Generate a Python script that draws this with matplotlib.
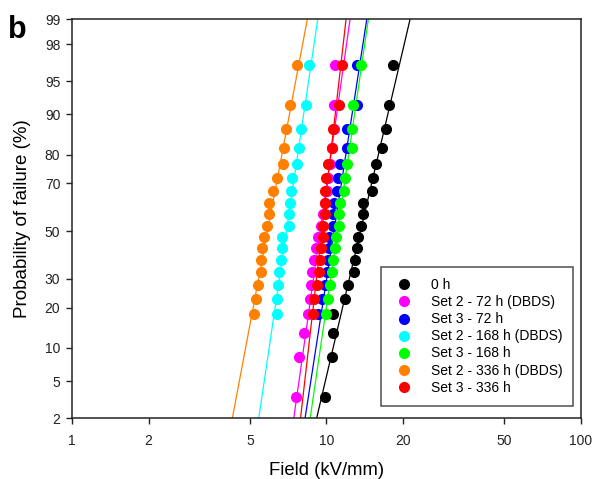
import numpy as np
import matplotlib
matplotlib.use("Agg")
import matplotlib.pyplot as plt
from statistics import NormalDist

plt.rcParams['font.family'] = ['Liberation Sans', 'DejaVu Sans']

# median-rank plotting positions (%) for 20 specimens
prob = [3.4, 8.3, 13.2, 18.1, 23.0, 27.9, 32.8, 37.7, 42.6, 47.5,
        52.5, 57.4, 62.3, 67.2, 72.1, 77.0, 81.9, 86.8, 91.7, 96.6]

labels = ['0 h', 'Set 2 - 72 h (DBDS)', 'Set 3 - 72 h', 'Set 2 - 168 h (DBDS)',
          'Set 3 - 168 h', 'Set 2 - 336 h (DBDS)', 'Set 3 - 336 h']
colors = ['#000000', '#ff00ff', '#0000ff', '#00ffff', '#00ff00', '#ff8000', '#ff0000']

# breakdown field (kV/mm), sorted
f_0h = [9.87, 10.55, 10.64, 10.64, 11.83, 12.19, 12.84, 12.92, 13.15, 13.35,
        13.68, 13.96, 13.96, 15.15, 15.29, 15.62, 16.49, 17.15, 17.62, 18.22]
f_s2_72 = [7.60, 7.83, 8.19, 8.49, 8.62, 8.70, 8.76, 8.94, 9.06, 9.27,
           9.52, 9.70, 9.87, 10.06, 10.17, 10.33, 10.52, 10.66, 10.74, 10.81]
f_s3_72 = [9.29, 9.58, 9.87, 10.08, 10.17, 10.27, 10.27, 10.59, 10.64, 10.74,
           10.98, 11.14, 11.31, 12.02, 12.08, 13.15, 13.23]
f_s2_168 = [6.41, 6.41, 6.44, 6.53, 6.63, 6.68, 6.71, 7.13, 7.15, 7.20,
            7.24, 7.35, 7.69, 7.81, 7.93, 8.32, 8.52]
f_s3_168 = [9.94, 10.17, 10.33, 10.49, 10.59, 10.81, 10.91, 11.24, 11.24, 11.31,
            11.76, 11.83, 12.02, 12.57, 12.64, 12.76, 13.64]
f_s2_336 = [5.20, 5.28, 5.40, 5.52, 5.55, 5.60, 5.69, 5.86, 5.97, 5.97,
            6.15, 6.41, 6.74, 6.80, 6.94, 7.20, 7.69]
f_s3_336 = [8.88, 8.94, 9.21, 9.35, 9.44, 9.50, 9.67, 9.72, 9.83, 9.87,
            9.87, 9.92, 10.17, 10.55, 10.64, 11.21, 11.55]
fields = [f_0h, f_s2_72, f_s3_72, f_s2_168, f_s3_168, f_s2_336, f_s3_336]

# fitted lines: field at 2 % and at 99 %
fit_lo = [9.15, 7.44, 8.24, 5.42, 8.63, 4.27, 7.91]
fit_hi = [21.30, 12.38, 14.40, 9.24, 14.61, 8.41, 11.94]

nd = NormalDist()


def fwd(p):
    p = np.clip(np.asarray(p, dtype=float), 1e-4, 100 - 1e-4)
    return np.vectorize(lambda v: nd.inv_cdf(v / 100.0), otypes=[float])(p)


def inv(z):
    return np.vectorize(lambda v: nd.cdf(v) * 100.0, otypes=[float])(np.asarray(z, dtype=float))


fig = plt.figure(figsize=(5.95, 4.79), dpi=100)
ax = fig.add_axes([0.1208, 0.1267, 0.8557, 0.833])
ax.set_xscale('log')
ax.set_yscale('function', functions=(fwd, inv))

for f, lo, hi, c, lab in zip(fields, fit_lo, fit_hi, colors, labels):
    ax.plot([lo, hi], [2, 99], color=c, lw=0.9, zorder=2)
    ax.plot(f, prob[20 - len(f):], 'o', color=c, ms=7.0, mec=c, label=lab, zorder=3)

ax.set_xlim(1, 100)
ax.set_ylim(2, 99)
xt = [1, 2, 5, 10, 20, 50, 100]
ax.set_xticks(xt)
ax.set_xticklabels([str(v) for v in xt])
ax.xaxis.set_minor_locator(matplotlib.ticker.NullLocator())
yt = [2, 5, 10, 20, 30, 50, 70, 80, 90, 95, 98, 99]
ax.set_yticks(yt)
ax.set_yticklabels([str(v) for v in yt])
ax.yaxis.set_minor_locator(matplotlib.ticker.NullLocator())
ax.tick_params(axis='both', direction='out', length=4.3, width=1, labelsize=10,
               colors='#222222')
ax.tick_params(axis='x', pad=7)
ax.tick_params(axis='y', pad=4)
for s in ax.spines.values():
    s.set_color('#222222')
    s.set_linewidth(1.1)

ax.set_xlabel('Field (kV/mm)', fontsize=13.3, labelpad=10)
ax.set_ylabel('Probability of failure (%)', fontsize=13.5, labelpad=10)

leg = ax.legend(loc='lower right', bbox_to_anchor=(0.985, 0.0316), fontsize=10,
                frameon=True, fancybox=False, edgecolor='#222222', numpoints=1,
                handlelength=1.8, handletextpad=1.0, borderpad=0.8, labelspacing=0.22,
                borderaxespad=0, markerscale=1.0)
leg.get_frame().set_linewidth(1.1)

fig.text(0.013, 0.968, 'b', fontsize=22, fontweight='bold', va='top', ha='left')

fig.savefig('out.png', dpi=100)
